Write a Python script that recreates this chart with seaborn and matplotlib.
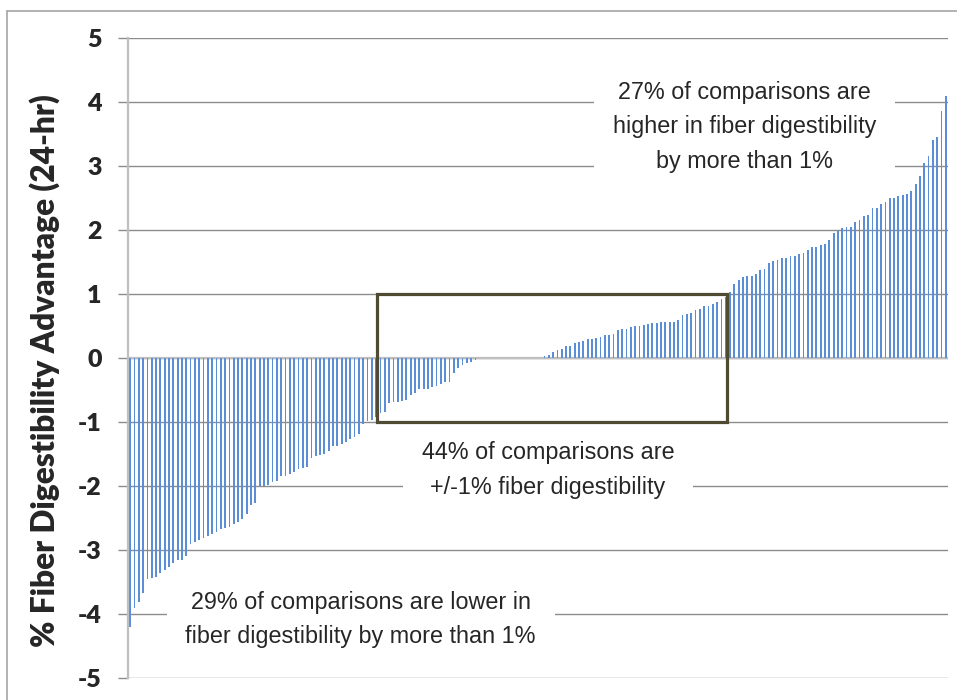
import numpy as np
import pandas as pd
import matplotlib
matplotlib.use("Agg")
import matplotlib.pyplot as plt
import seaborn as sns
from matplotlib.patches import Rectangle
from matplotlib.lines import Line2D

# Sorted fiber digestibility advantage (% units, 24-hr) for each comparison
lower_group = [
    -4.20, -3.90, -3.81, -3.67, -3.46, -3.43, -3.42, -3.36, -3.31, -3.26,
    -3.21, -3.16, -3.15, -3.10, -2.90, -2.88, -2.84, -2.81, -2.78, -2.75,
    -2.72, -2.67, -2.65, -2.64, -2.59, -2.56, -2.51, -2.44, -2.30, -2.26,
    -2.00, -2.00, -1.99, -1.94, -1.92, -1.85, -1.84, -1.81, -1.78, -1.73,
    -1.72, -1.70, -1.57, -1.53, -1.52, -1.50, -1.46, -1.38, -1.37, -1.34,
    -1.32, -1.27, -1.23, -1.19, -1.03,
]
middle_group = [
    -0.98, -0.97, -0.92, -0.86, -0.85, -0.70, -0.69, -0.68, -0.67, -0.65,
    -0.58, -0.55, -0.49, -0.48, -0.48, -0.45, -0.43, -0.40, -0.38, -0.37,
    -0.24, -0.15, -0.11, -0.08, -0.06, -0.03,
    0.00, 0.00, 0.00, 0.00, 0.00, 0.00, 0.00, 0.00, 0.00, 0.00,
    0.00, 0.00, 0.00, 0.00, 0.00,
    0.03, 0.05, 0.09, 0.12, 0.14, 0.18, 0.18, 0.23, 0.25, 0.27,
    0.30, 0.30, 0.31, 0.33, 0.36, 0.36, 0.38, 0.43, 0.45, 0.46,
    0.48, 0.50, 0.50, 0.52, 0.53, 0.54, 0.54, 0.57, 0.57, 0.57,
    0.57, 0.59, 0.67, 0.68, 0.71, 0.75, 0.77, 0.81, 0.81, 0.84,
    0.87, 0.92, 0.95,
]
higher_group = [
    1.03, 1.16, 1.22, 1.27, 1.28, 1.28, 1.31, 1.37, 1.39, 1.48,
    1.51, 1.53, 1.56, 1.57, 1.60, 1.60, 1.62, 1.64, 1.68, 1.74,
    1.74, 1.77, 1.78, 1.84, 1.96, 1.99, 2.03,
    2.04, 2.05, 2.12, 2.16, 2.22, 2.24, 2.34, 2.35, 2.41, 2.44,
    2.50, 2.50, 2.53, 2.55, 2.57, 2.61, 2.72, 2.85, 3.04, 3.16,
    3.41, 3.45, 3.86, 4.09,
]

y_ticks = [-5, -4, -3, -2, -1, 0, 1, 2, 3, 4, 5]
y_tick_labels = ["-5", "-4", "-3", "-2", "-1", "0", "1", "2", "3", "4", "5"]
y_label = "% Fiber Digestibility Advantage (24-hr)"
note_higher = "27% of comparisons are\nhigher in fiber digestibility\nby more than 1%"
note_middle = "44% of comparisons are\n+/-1% fiber digestibility"
note_lower = "29% of comparisons are lower in\nfiber digestibility by more than 1%"

values = lower_group + middle_group + higher_group
n = len(values)
df = pd.DataFrame({"comparison": np.arange(n), "advantage": values})

sns.set_style("white")
plt.rcParams['font.family'] = ['Liberation Sans', 'DejaVu Sans']

fig = plt.figure(figsize=(9.57, 7), dpi=100)
ax = fig.add_axes([128 / 957, 22 / 700, 820 / 957, 640 / 700])

sns.barplot(data=df, x="comparison", y="advantage", color="#5B8ED6",
            saturation=1, width=0.42, linewidth=0, edgecolor='none', ax=ax, zorder=2)

ax.set_xlim(-0.5, n - 0.5)
ax.set_ylim(-5, 5)
ax.set_xticks([])
ax.set_xlabel("")
ax.set_yticks(y_ticks)
ax.set_yticklabels(y_tick_labels, fontsize=18, fontweight='heavy', family='Lato')
ax.tick_params(axis='y', direction='out', length=7, width=1, color='#8C8C8C',
               pad=12, left=True)
ax.set_ylabel(y_label, fontsize=22.8, fontweight='heavy', family='Lato')
ax.yaxis.set_label_coords(-0.083, 0.481)

ax.yaxis.grid(True, color='#8C8C8C', linewidth=1)
ax.set_axisbelow(True)
ax.axhline(0, color='#BFBFBF', linewidth=1.6, zorder=1.5)

for side in ['top', 'right', 'bottom']:
    ax.spines[side].set_visible(False)
ax.spines['left'].set_color('#BFBFBF')
ax.spines['left'].set_linewidth(1.6)

# box marking the +/-1% band (drawn above the text boxes)
ax.add_patch(Rectangle((57.2, -1), 81.1, 2, fill=False, edgecolor='#4F4B33',
                       linewidth=2.3, zorder=6))

box = dict(facecolor='white', edgecolor='none', boxstyle='square,pad=0.8')
ax.text(142.3, 3.61, note_higher, ha='center', va='center', fontsize=16.8,
        linespacing=1.62, bbox=box, zorder=5)
ax.text(96.8, -1.75, note_middle, ha='center', va='center', fontsize=16.8,
        linespacing=1.62, bbox=box, zorder=5)
ax.text(53.4, -4.09, note_lower, ha='center', va='center', fontsize=16.8,
        linespacing=1.62, bbox=box, zorder=5)

# outer chart frame
fig.add_artist(Line2D([7 / 957, 7 / 957], [0, 1 - 11 / 700], transform=fig.transFigure,
                      color='#A6A6A6', linewidth=1.2))
fig.add_artist(Line2D([7 / 957, 1], [1 - 11 / 700, 1 - 11 / 700], transform=fig.transFigure,
                      color='#A6A6A6', linewidth=1.2))

fig.savefig('out.png', dpi=100)
